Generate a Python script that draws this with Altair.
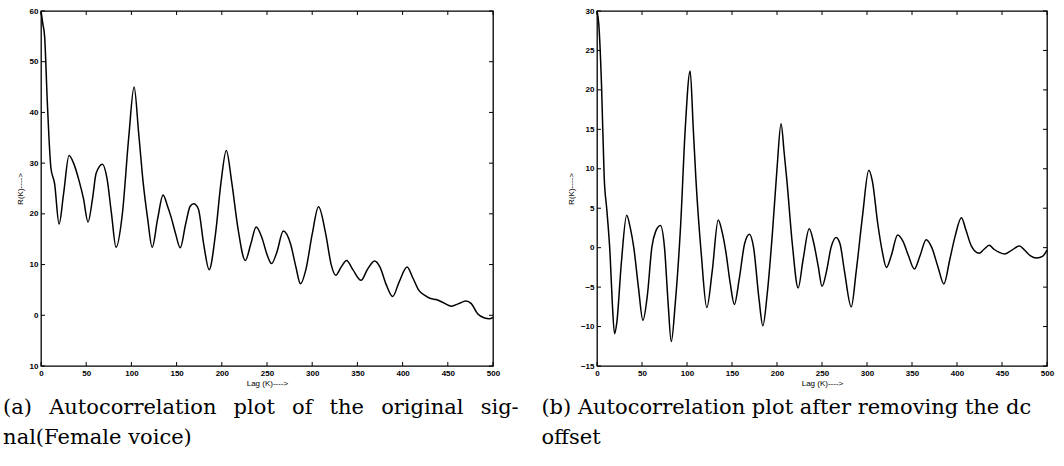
import altair as alt
import pandas as pd

# ---- data ----
lag_a = [0, 2, 4, 7, 11, 15, 20, 25, 31, 36, 42, 47, 52, 57, 61, 68, 73, 78, 83, 90, 97, 103,
         108, 113, 118, 123, 129, 135, 140, 144, 149, 154, 160, 165, 169, 174, 180, 186, 193,
         199, 205, 211, 218, 226, 232, 238, 244, 250, 255, 261, 268, 276, 282, 287, 293, 300,
         307, 315, 321, 326, 332, 338, 345, 354, 361, 369, 375, 382, 389, 396, 405, 411, 418,
         425, 431, 437, 446, 454, 462, 470, 476, 483, 490, 496, 500]
r_a = [60, 57.5, 55, 42, 29, 26, 18, 24, 31.5, 30, 26.6, 23, 18.4, 23, 28, 29.8, 27, 20, 13.4,
       20, 35, 45, 36, 26.2, 19, 13.4, 19, 23.7, 21.5, 19.3, 16, 13.3, 18, 21.5, 22, 21, 14, 9,
       16, 26, 32.5, 26.2, 17, 10.8, 14, 17.4, 15.5, 12, 10.2, 12.5, 16.6, 14.1, 9.5, 6.2, 9,
       16, 21.4, 16, 10, 7.9, 9.5, 10.8, 9, 6.9, 9, 10.7, 9.5, 6, 3.7, 6.5, 9.5, 7.5, 4.9, 3.9,
       3.3, 3.1, 2.4, 1.8, 2.3, 2.8, 2.3, 0.3, -0.5, -0.7, -0.4]

lag_b = [0, 2, 5, 8, 11, 14.5, 17, 19.5, 22, 27, 33, 37, 41, 46, 51, 56, 61, 65, 70.5, 75, 79,
         82.5, 87, 93, 98, 103.5, 107, 110, 116, 122, 128, 134.7, 139, 143, 148, 152.6, 158,
         164, 169.4, 174, 180, 184.3, 189, 195, 200, 204.5, 208, 211, 217, 223.5, 229, 235.8,
         241, 246, 250, 255, 260, 265.7, 270, 275, 282.5, 288, 295, 302, 306, 312, 317, 321.6,
         327, 334, 340, 346, 352.6, 359, 365.7, 372, 379, 385.4, 392, 398, 404.9, 410, 416,
         424.6, 430, 435.8, 441, 447, 453.4, 461, 469.4, 475, 481.3, 488.8, 495, 500]
r_b = [30, 28.3, 20.7, 8.9, 4.7, -0.8, -7, -10.9, -9.5, -2, 4.1, 2.5, -0.1, -5, -9.2, -6, 0.1,
       2, 2.8, 0, -7, -11.9, -7, 3, 15, 22.4, 15, 8.5, -1, -7.6, -3, 3.5, 2, -0.4, -4.5, -7.2,
       -4, 0.5, 1.7, 0, -6.5, -9.9, -6, 2, 10, 15.7, 12, 8.5, 0.5, -5.1, -1.5, 2.4, 0.5, -2.5,
       -4.9, -3, 0, 1.3, 0.5, -3, -7.5, -3, 4, 9.8, 8.4, 3, -0.5, -2.5, -1, 1.6, 0.8, -1, -2.7,
       -1, 1.0, 0, -2.5, -4.6, -1.5, 1.5, 3.8, 2.2, 0.2, -0.7, -0.2, 0.3, -0.2, -0.6, -0.8,
       -0.3, 0.2, -0.3, -1.0, -1.3, -1.1, -0.3]

x_ticks = [0, 50, 100, 150, 200, 250, 300, 350, 400, 450, 500]
y_ticks_a = [-10, 0, 10, 20, 30, 40, 50, 60]
y_ticks_b = [-15, -10, -5, 0, 5, 10, 15, 20, 25, 30]

G = " \u2002"  # widened (justified) word gap
caption_a = ["(a)" + G + "Autocorrelation" + G + "plot" + G + "of" + G + "the" + G + "original" + G + "sig-",
             "nal(Female voice)"]
caption_b = ["(b) Autocorrelation plot after removing the dc", "offset"]

x_title = "Lag (K)---->"
y_title = "R(K)---->"

H = 355
TICK = 4


def panel(lags, vals, yticks, caption, W, cap_dx, label_expr=None):
    df = pd.DataFrame({"v": lags, "r": vals})
    xs = alt.Scale(domain=[x_ticks[0], x_ticks[-1]], nice=False)
    ys = alt.Scale(domain=[yticks[0], yticks[-1]], nice=False)
    yaxis_kw = dict(values=yticks, ticks=False, domain=False, grid=False,
                    labelFont="Liberation Sans", labelFontSize=8, labelFontWeight="bold",
                    labelPadding=3, labelColor="black", labelOverlap=False,
                    title=y_title, titleFont="Liberation Sans", titleFontSize=8,
                    titleFontWeight="normal", titlePadding=5, titleColor="black")
    if label_expr:
        yaxis_kw["labelExpr"] = label_expr
    yaxis = alt.Axis(**yaxis_kw)
    xaxis = alt.Axis(values=x_ticks, ticks=False, domain=False, grid=False,
                     labelFont="Liberation Sans", labelFontSize=8,
                     labelFontWeight="bold", labelPadding=3, labelColor="black",
                     labelFlush=False, labelOverlap=False,
                     title=x_title, titleFont="Liberation Sans", titleFontSize=8,
                     titleFontWeight="normal", titlePadding=2, titleColor="black")
    line = alt.Chart(df).mark_line(color="black", strokeWidth=1.5, interpolate="monotone").encode(
        x=alt.X("v:Q", scale=xs, axis=xaxis),
        y=alt.Y("r:Q", scale=ys, axis=yaxis),
    )
    xt = pd.DataFrame({"v": x_ticks})
    yt = pd.DataFrame({"r": yticks})
    bot = alt.Chart(xt).mark_rule(color="black", strokeWidth=1).encode(
        x=alt.X("v:Q", scale=xs, axis=xaxis), y=alt.value(H), y2=alt.value(H - TICK))
    top = alt.Chart(xt).mark_rule(color="black", strokeWidth=1).encode(
        x=alt.X("v:Q", scale=xs, axis=xaxis), y=alt.value(0), y2=alt.value(TICK))
    lft = alt.Chart(yt).mark_rule(color="black", strokeWidth=1).encode(
        y=alt.Y("r:Q", scale=ys, axis=yaxis), x=alt.value(0), x2=alt.value(TICK))
    rgt = alt.Chart(yt).mark_rule(color="black", strokeWidth=1).encode(
        y=alt.Y("r:Q", scale=ys, axis=yaxis), x=alt.value(W), x2=alt.value(W - TICK))
    return alt.layer(line, bot, top, lft, rgt).properties(
        width=W, height=H,
        title=alt.TitleParams(text=caption, orient="bottom", anchor="start",
                              frame="bounds", font="DejaVu Serif", fontSize=21,
                              fontWeight="normal", lineHeight=30, offset=10, dx=cap_dx,
                              color="black"),
    )


left = panel(lag_a, r_a, y_ticks_a, caption_a, 452, -13,
             label_expr="datum.value == -10 ? '10' : datum.label")
right = panel(lag_b, r_b, y_ticks_b, caption_b, 450, -26)

chart = alt.hconcat(left, right, spacing=104, bounds="flush").properties(
    padding={"left": 2, "top": 6, "right": 0, "bottom": 0},
    background="white",
).configure_view(stroke="black", strokeWidth=1.3)

chart.save("out.html", embed_options={"renderer": "svg", "actions": False})
